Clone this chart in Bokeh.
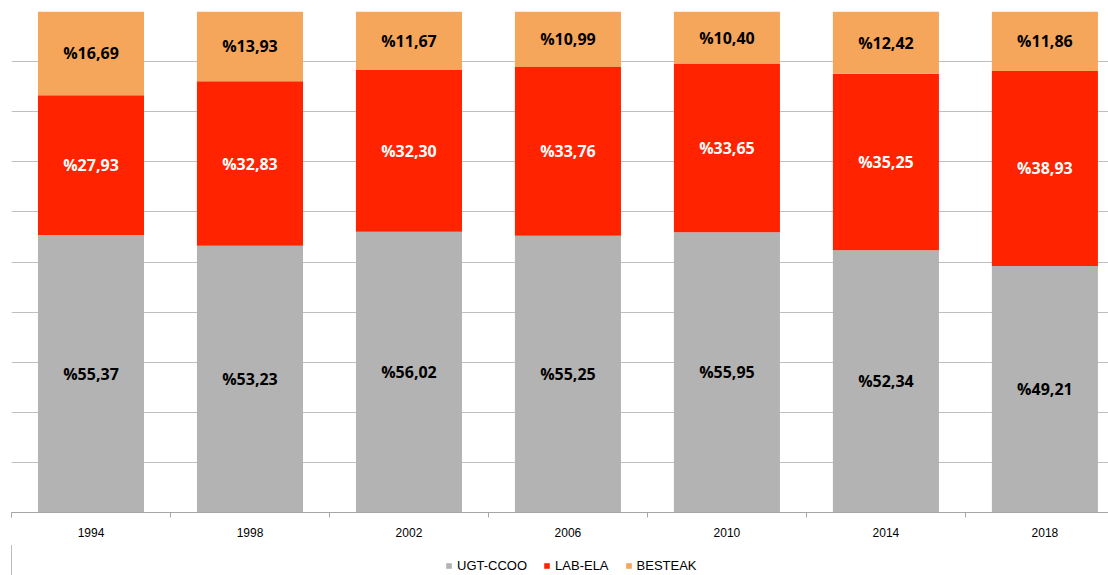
from bokeh.plotting import figure
from bokeh.layouts import column
from bokeh.models import ColumnDataSource, LabelSet, FixedTicker, Legend, LegendItem, Range1d
from bokeh.core.properties import value
from bokeh.embed import file_html
from bokeh.resources import INLINE

years = ["1994", "1998", "2002", "2006", "2010", "2014", "2018"]
ugt_ccoo = [55.37, 53.23, 56.02, 55.25, 55.95, 52.34, 49.21]
lab_ela = [27.93, 32.83, 32.30, 33.76, 33.65, 35.25, 38.93]
besteak = [16.69, 13.93, 11.67, 10.99, 10.40, 12.42, 11.86]
series_names = ["UGT-CCOO", "LAB-ELA", "BESTEAK"]
colors = ["#B3B3B3", "#FF2300", "#F5A65B"]
label_colors = ["#000000", "#FFFFFF", "#000000"]

n = len(years)
xs = [i + 0.5 for i in range(n)]

src = ColumnDataSource(dict(x=xs, ugt=ugt_ccoo, lab=lab_ela, bes=besteak))

p = figure(width=1108, height=545, output_backend="svg", toolbar_location=None,
           x_range=Range1d(0, 6.9), y_range=Range1d(0, 100),
           min_border_left=11, min_border_top=11, min_border_right=0, min_border_bottom=33)

renderers = p.vbar_stack(["ugt", "lab", "bes"], x="x", width=0.667, source=src,
                         color=colors, line_color=None)

# labels
lx, ly, lt, lc = [], [], [], []
for i in range(n):
    vals = [ugt_ccoo[i], lab_ela[i], besteak[i]]
    base = 0
    for k, v in enumerate(vals):
        lx.append(xs[i])
        ly.append(base + v / 2)
        lt.append("%" + f"{v:.2f}".replace(".", ","))
        lc.append(label_colors[k])
        base += v
lsrc = ColumnDataSource(dict(x=lx, y=ly, t=lt, c=lc))
labels = LabelSet(x="x", y="y", text="t", source=lsrc, text_color="c",
                  text_align="center", text_baseline="middle",
                  text_font=value("Open Sans"), text_font_style="bold", text_font_size="16px")
p.add_layout(labels)

# axes
p.yaxis.visible = False
p.ygrid.ticker = FixedTicker(ticks=list(range(0, 101, 10)))
p.ygrid.grid_line_color = "#BFBFBF"
p.xgrid.grid_line_color = None
p.outline_line_color = None

xa = p.xaxis[0]
xa.ticker = FixedTicker(ticks=xs, minor_ticks=list(range(0, n + 1)))
xa.major_label_overrides = {x: y for x, y in zip(xs, years)}
xa.major_tick_line_color = None
xa.major_tick_out = 0
xa.minor_tick_in = 0
xa.minor_tick_out = 5
xa.minor_tick_line_color = "#A6A6A6"
xa.axis_line_color = "#A6A6A6"
xa.major_label_text_font = "Liberation Sans"
xa.major_label_text_font_size = "12px"
xa.major_label_text_color = "#000000"
xa.major_label_standoff = 10

# legend in its own strip below the chart (off-range copies of the series for the swatches)
lg = figure(width=1108, height=30, output_backend="svg", toolbar_location=None,
            x_range=Range1d(100, 101), y_range=Range1d(0, 1),
            min_border_left=0, min_border_top=0, min_border_right=0, min_border_bottom=0)
lg.axis.visible = False
lg.grid.grid_line_color = None
lg.outline_line_color = None
swatches = lg.vbar_stack(["ugt", "lab", "bes"], x="x", width=0.667, source=src,
                         color=colors, line_color=None)
legend = Legend(items=[LegendItem(label=nm, renderers=[r]) for nm, r in zip(series_names, swatches)],
                orientation="horizontal", location=(434, 2),
                label_text_font="Liberation Sans", label_text_font_size="13px",
                label_text_color="#000000",
                glyph_width=7, glyph_height=7, label_standoff=5, spacing=16,
                padding=0, margin=0, border_line_color=None, background_fill_alpha=0,
                label_height=14)
lg.add_layout(legend, "center")

layout = column(p, lg, spacing=0)
open("out.html", "w").write(file_html(layout, INLINE))
